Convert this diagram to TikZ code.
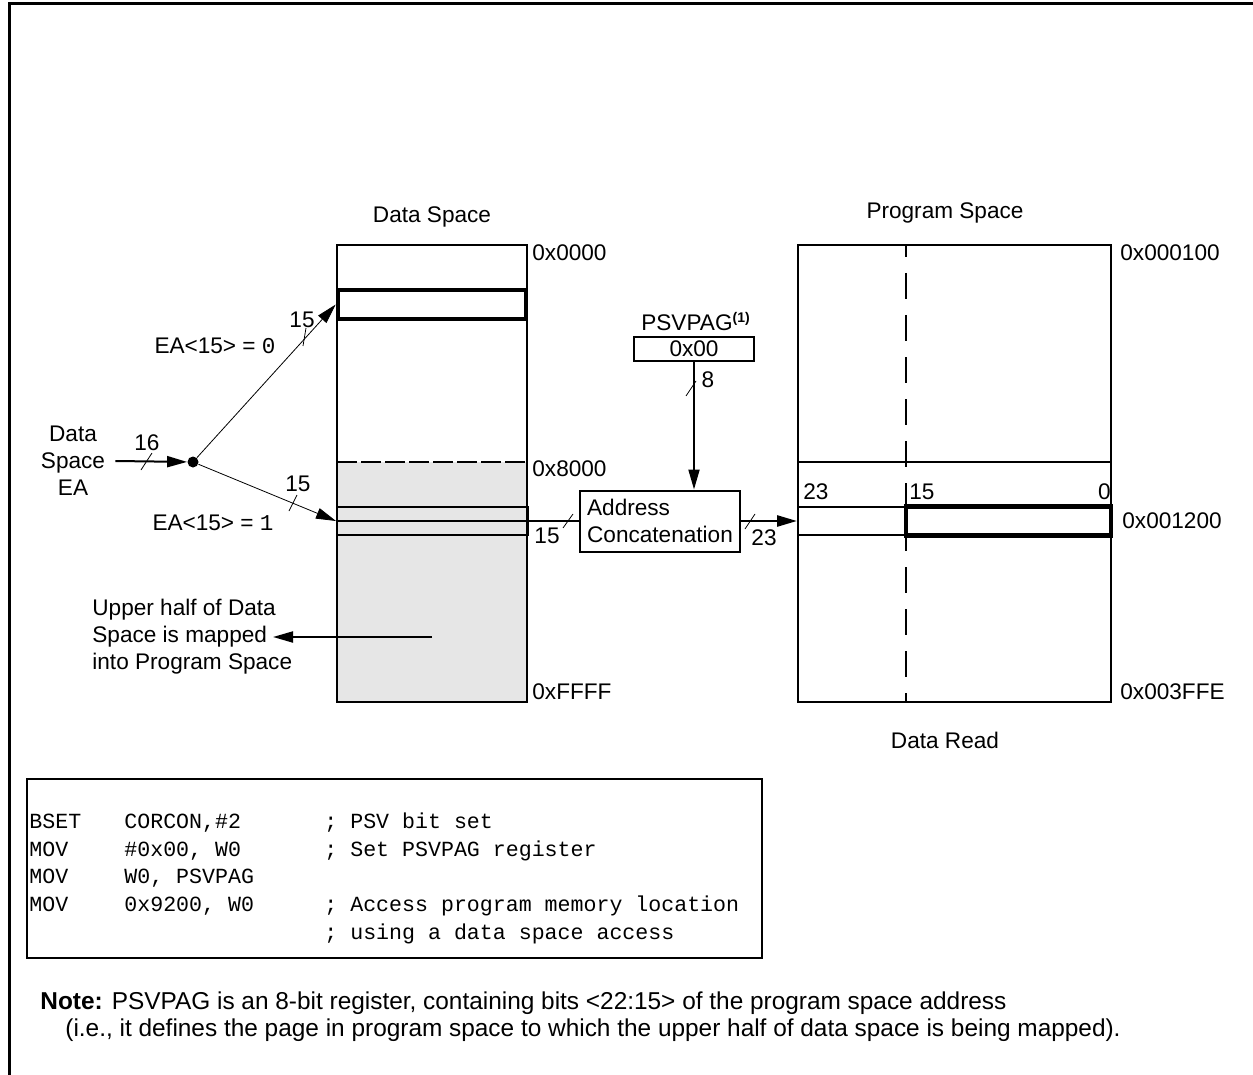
\documentclass[tikz,border=0pt]{standalone}
\usepackage{fontspec}
\setmainfont{Liberation Sans}
\setmonofont{Liberation Mono}
\usetikzlibrary{arrows.meta}
\definecolor{memgray}{HTML}{E6E6E6}
\begin{document}
\begin{tikzpicture}[x=0.5pt,y=-0.5pt,>={Triangle[length=10pt,width=5.5pt]},
  font=\fontsize{11.3}{13.5}\selectfont]
\tikzstyle{every node}=[inner sep=0pt]
\tikzstyle{cell}=[draw,line width=1pt,minimum height=14pt]
\tikzstyle{hot}=[draw,line width=2.3pt,minimum height=14.5pt]
\tikzstyle{code}=[anchor=base west,font=\ttfamily\fontsize{10.8}{13}\selectfont]
\tikzstyle{notetext}=[anchor=west,font=\fontsize{12.2}{14}\selectfont]
\useasboundingbox (0,0) rectangle (1253,1075);
\draw [line width=1.5pt] (9,1075) -- (9,4) -- (1253,4);

% data space
\fill [memgray] (337,462) rectangle (527,702);
\draw [line width=1pt] (337,245) rectangle (527,702);
\draw [line width=1pt,dash pattern=on 10pt off 2pt] (337,462) -- (527,462);
\draw (432,217) node (dtitle) {Data Space};
\draw (432,304.5) node (slot) [hot,minimum width=94pt] {};
\draw (432.5,521) node (row) [cell,minimum width=95.5pt] {};
\draw (532,253) node (d0) [anchor=west] {0x0000};
\draw (532,469) node (d8) [anchor=west] {0x8000};
\draw (532,692) node (df) [anchor=west] {0xFFFF};

% effective address
\draw (73,461) node (ea) [align=center,inner sep=5pt] {Data\\Space\\EA};
\draw (193,462) node (dot) [circle,fill,minimum size=5.5pt] {};
\draw [->,line width=1pt] (ea.east) -- (dot);
\draw [->] (dot) -- (slot.west);
\draw [->] (dot) -- (row.west);
\draw (141,470) -- (152,453);
\draw (147,443) node (w16) {16};
\draw (303,346) -- (306,328);
\draw (302,320) node (w15a) {15};
\draw (289,511) -- (297,495);
\draw (298,484) node (w15b) {15};
\draw (215,346) node (ea0) {EA<15> = \texttt{0}};
\draw (213,523) node (ea1) {EA<15> = \texttt{1}};

% mapped note
\draw (92,637) node (upper) [anchor=west,align=left] {Upper half of Data\\Space is mapped\\into Program Space};
\coordinate (mapped) at (273,637);
\coordinate (half) at (432,637);
\draw [->,line width=1pt] (half) -- (mapped);

% concatenation
\draw (660,521) node (concat) [draw,line width=1pt,minimum width=80pt,minimum height=30.5pt,
  align=left,inner sep=3pt] {Address\\Concatenation};
\draw (696,322) node (psvlbl) {PSVPAG\textsuperscript{\bfseries\scriptsize(1)}};
\draw (694,349) node (psv) [draw,line width=1pt,minimum width=60pt,minimum height=12pt] {0x00};
\draw [->,line width=1pt] (psv.south) -- (psv.south |- concat.north);
\draw (686,396) -- (696,381);
\draw (708,380) node (w8) {8};
\draw [line width=1pt] (row.west) -- (concat.west);
\draw (563,528) -- (573,514);
\draw (547,536) node (w15c) {15};

% program space
\draw (945,213) node (ptitle) {Program Space};
\draw [line width=1pt] (798,245) rectangle (1111,702);
\draw [line width=1pt] (798,462) -- (1111,462);
\draw (852,521) node (prow) [cell,minimum width=54pt] {};
\draw (1008.5,521) node (pslot) [hot,minimum width=102.5pt] {};
\draw [line width=1pt,dash pattern=on 13pt off 8pt,dash phase=7pt] (906,245) -- (906,702);
\draw [->,line width=1.3pt] (concat.east) -- (prow.west);
\draw (745,529) -- (755,514);
\draw (764,538) node (w23) {23};
\draw (803,492) node (b23) [anchor=west] {23};
\draw (909,492) node (b15) [anchor=west] {15};
\draw (1111,492) node (b0) [anchor=east] {0};
\draw (1120,253) node (p0) [anchor=west] {0x000100};
\draw (1122,521) node (p12) [anchor=west] {0x001200};
\draw (1120,692) node (pf) [anchor=west] {0x003FFE};
\draw (945,740) node (dread) {Data Read};

% code listing
\draw [line width=1pt] (27,779) rectangle (762,958);
\foreach \y/\op/\arg/\cmt in {828/BSET/{CORCON,\#2}/{; PSV bit set},
  856/MOV/{\#0x00, W0}/{; Set PSVPAG register},
  883/MOV/{W0, PSVPAG}/{},
  911/MOV/{0x9200, W0}/{; Access program memory location},
  939/{}/{}/{; using a data space access}}
{
  \draw (29,\y) node [code] {\op};
  \draw (124,\y) node [code] {\arg};
  \draw (324,\y) node [code] {\cmt};
}

% note
\draw (40,1003) node (note) [notetext] {\textbf{Note:} PSVPAG is an 8-bit register, containing bits <22:15> of the program space address};
\draw (65,1030) node (note2) [notetext] {(i.e., it defines the page in program space to which the upper half of data space is being mapped).};
\end{tikzpicture}
\end{document}
